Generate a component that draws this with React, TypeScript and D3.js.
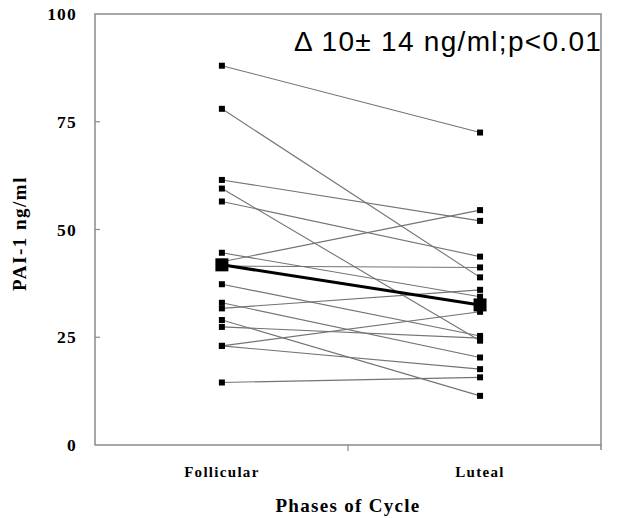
import React from "react";
import * as d3 from "d3";

const phases = ["Follicular", "Luteal"];
const follicular = [88, 78, 61.5, 59.5, 56.5, 44.6, 42.5, 41.5, 37.3, 33.0, 31.7, 29.0, 27.4, 23.0, 23.0, 14.5];
const luteal = [72.5, 38.9, 52.0, 24.2, 43.7, 34.4, 54.5, 41.2, 25.3, 20.3, 36.0, 11.4, 24.8, 30.9, 17.6, 15.7];
const meanValues = [41.8, 32.5];
const yTicks = [0, 25, 50, 75, 100];
const annotation = "\u0394 10\u00b1 14 ng/ml;p<0.01";

export default function App() {
  const W = 630, H = 518;
  const left = 95, right = 601, top = 14, bottom = 445;
  const x = d3.scalePoint<string>().domain(phases).range([left, right]).padding(0.48).align(0.512);
  const y = d3.scaleLinear().domain([0, 100]).range([bottom, top]);
  const xf = x("Follicular")!;
  const xl = x("Luteal")!;
  const line = d3.line<[number, number]>().x(d => d[0]).y(d => d[1]);
  const serif = "'Liberation Serif', 'Times New Roman', serif";
  const frame = "#8a8a8a";
  const s = 6, S = 13;
  return (
    <svg width={W} height={H} style={{ position: "absolute", left: 0, top: 0, background: "#fff" }}>
      <rect x={left} y={top} width={right - left} height={bottom - top} fill="none" stroke={frame} strokeWidth={1.5} />
      {yTicks.filter(t => t > 0 && t < 100).map(t => (
        <line key={t} x1={left} x2={left + 5} y1={y(t)} y2={y(t)} stroke={frame} strokeWidth={1.2} />
      ))}
      <line x1={(left + right) / 2} x2={(left + right) / 2} y1={bottom} y2={bottom + 6} stroke={frame} strokeWidth={1.2} />
      <line x1={right} x2={right} y1={bottom} y2={bottom + 5} stroke={frame} strokeWidth={1.5} />
      {yTicks.map(t => (
        <text key={t} x={77} y={y(t)} dy="0.35em" textAnchor="end" fontFamily={serif} fontWeight="bold" fontSize={17.5} letterSpacing={1.2}>{t}</text>
      ))}
      <text transform={`translate(26,${(top + bottom) / 2 + 4}) rotate(-90)`} textAnchor="middle" fontFamily={serif} fontWeight="bold" fontSize={19} letterSpacing={1.5}>PAI-1 ng/ml</text>
      {phases.map(p => (
        <text key={p} x={x(p)!} y={477} textAnchor="middle" fontFamily={serif} fontWeight="bold" fontSize={15} letterSpacing={1.3}>{p}</text>
      ))}
      <text x={(left + right) / 2} y={512} textAnchor="middle" fontFamily={serif} fontWeight="bold" fontSize={19} letterSpacing={1.3}>Phases of Cycle</text>
      {follicular.map((f, i) => (
        <path key={"l" + i} d={line([[xf, y(f)], [xl, y(luteal[i])]])!} stroke="#737373" strokeWidth={1.1} fill="none" />
      ))}
      {follicular.map((f, i) => (
        <rect key={"f" + i} x={xf - s / 2} y={y(f) - s / 2} width={s} height={s} fill="#000" />
      ))}
      {luteal.map((l, i) => (
        <rect key={"u" + i} x={xl - s / 2} y={y(l) - s / 2} width={s} height={s} fill="#000" />
      ))}
      <path d={line([[xf, y(meanValues[0])], [xl, y(meanValues[1])]])!} stroke="#000" strokeWidth={3} fill="none" />
      {meanValues.map((m, i) => (
        <rect key={"m" + i} x={x(phases[i])! - S / 2} y={y(m) - S / 2} width={S} height={S} fill="#000" />
      ))}
      <text x={294} y={51} fontFamily="'Liberation Sans', Arial, sans-serif" fontSize={28} letterSpacing={1.3}>{annotation}</text>
    </svg>
  );
}
